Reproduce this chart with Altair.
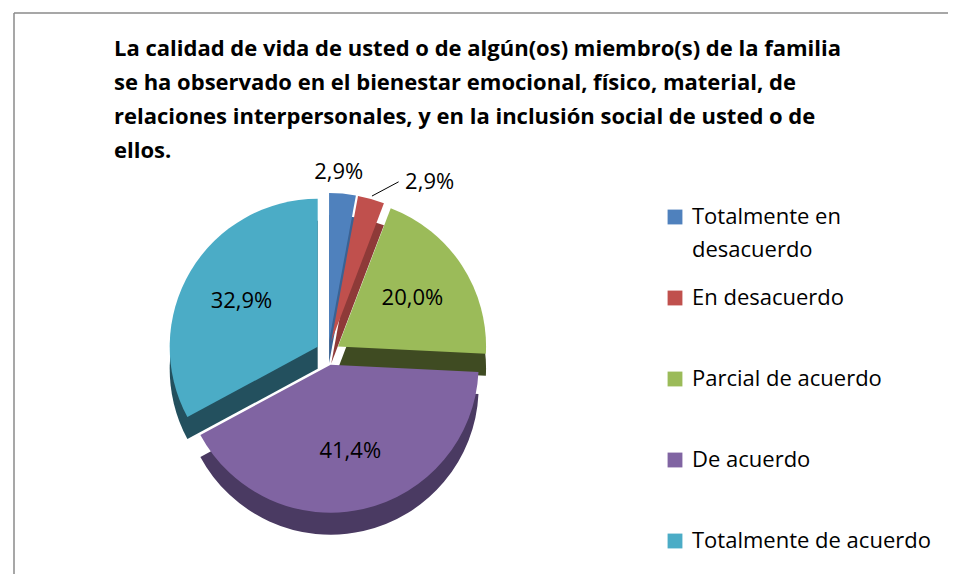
import altair as alt
import pandas as pd

categories = ["Totalmente en desacuerdo", "En desacuerdo", "Parcial de acuerdo",
              "De acuerdo", "Totalmente de acuerdo"]
values = [2.9, 2.9, 20.0, 41.4, 32.9]
colors = ["#4F81BD", "#C0504D", "#9BBB59", "#8064A2", "#4BACC6"]
side_colors = ["#3A6293", "#8E3A38", "#3F4B22", "#4A3A62", "#23505E"]
title_lines = [
    "La calidad de vida de usted o de algún(os) miembro(s) de la familia",
    "se ha observado en el bienestar emocional, físico, material, de",
    "relaciones interpersonales, y en la inclusión social de usted o de",
    "ellos.",
]

CX, CY, R, D, DEPTH = 320, 345, 148, 12, 22
FONT = "Open Sans"

df = pd.DataFrame({"cat": categories, "value": values, "order": list(range(len(values)))})

base = (
    alt.Chart(df)
    .transform_window(cum="sum(value)", sort=[alt.SortField("order")], frame=[None, 0])
    .transform_joinaggregate(total="sum(value)")
    .transform_calculate(t0="(datum.cum - datum.value) / datum.total * 2 * PI")
    .transform_calculate(t1="datum.cum / datum.total * 2 * PI")
    .transform_calculate(mid="(datum.t0 + datum.t1) / 2")
    .transform_calculate(px=f"{CX} + {D} * sin(datum.mid)")
    .transform_calculate(py=f"{CY} - {D} * cos(datum.mid)")
    .transform_calculate(pys=f"datum.py + {DEPTH}")
    .transform_calculate(lr=f"datum.value < 5 ? {R + 24} : {R * 0.6}")
    .transform_calculate(lx="datum.px + datum.lr * sin(datum.mid) + (datum.value < 5 ? (datum.order == 0 ? -6 : 52) : 0)")
    .transform_calculate(ly="datum.py - datum.lr * cos(datum.mid) + (datum.value < 5 ? (datum.order == 0 ? 2 : 6) : 0)")
    .transform_calculate(ex=f"datum.px + {R + 3} * sin(datum.mid)")
    .transform_calculate(ey=f"datum.py - {R + 3} * cos(datum.mid)")
    .transform_calculate(lab="replace(format(datum.value, '.1f'), '.', ',') + '%'")
)

side = base.mark_arc(radius=R).encode(
    x=alt.X("px:Q", scale=None),
    y=alt.Y("pys:Q", scale=None),
    theta=alt.Theta("t0:Q", scale=None, stack=False),
    theta2="t1:Q",
    color=alt.Color("cat:N", scale=alt.Scale(domain=categories, range=side_colors), legend=None),
)

top = base.mark_arc(radius=R).encode(
    x=alt.X("px:Q", scale=None),
    y=alt.Y("py:Q", scale=None),
    theta=alt.Theta("t0:Q", scale=None, stack=False),
    theta2="t1:Q",
    color=alt.Color(
        "cat:N",
        scale=alt.Scale(domain=categories, range=colors),
        sort=categories,
        legend=alt.Legend(
            title=None, orient="none", legendX=656, legendY=198,
            symbolType="square", symbolSize=220, symbolStrokeWidth=0,
            labelFont=FONT, labelFontSize=22, labelColor="black",
            labelOffset=6, labelLimit=320, rowPadding=26,
            labelExpr="datum.label == 'Totalmente en desacuerdo' ? ['Totalmente en', 'desacuerdo'] : [datum.label, ' ']",
        ),
    ),
)

labels = base.mark_text(font=FONT, fontSize=22, color="black").encode(
    x=alt.X("lx:Q", scale=None),
    y=alt.Y("ly:Q", scale=None),
    text="lab:N",
)

leader = base.transform_filter("datum.order == 1").mark_rule(color="black", strokeWidth=1).encode(
    x=alt.X("ex:Q", scale=None),
    y=alt.Y("ey:Q", scale=None),
    x2="lx2:Q",
    y2="ly:Q",
).transform_calculate(lx2="datum.lx - 31")

one = alt.Chart(pd.DataFrame({"k": [0]}))
title = one.mark_text(
    text=title_lines, font=FONT, fontSize=22, fontWeight="bold", align="left",
    baseline="top", lineHeight=34, color="black",
).encode(x=alt.value(106), y=alt.value(31))

border_top = one.mark_rule(color="#8a8a8a", strokeWidth=1.5).encode(
    x=alt.value(6), x2=alt.value(940), y=alt.value(5))
border_left = one.mark_rule(color="#8a8a8a", strokeWidth=1.5).encode(
    x=alt.value(6), y=alt.value(5), y2=alt.value(566))

chart = (
    alt.layer(border_top, border_left, title, side, top, labels, leader)
    .resolve_scale(color="independent")
    .properties(width=940, height=566, padding=0,
                autosize=alt.AutoSizeParams(type="fit", contains="padding"))
    .configure(view=alt.ViewConfig(strokeWidth=0),
               style={"guide-label": {"lineHeight": 33}})
)

chart.save("out.html", embed_options={"renderer": "svg", "actions": False})
